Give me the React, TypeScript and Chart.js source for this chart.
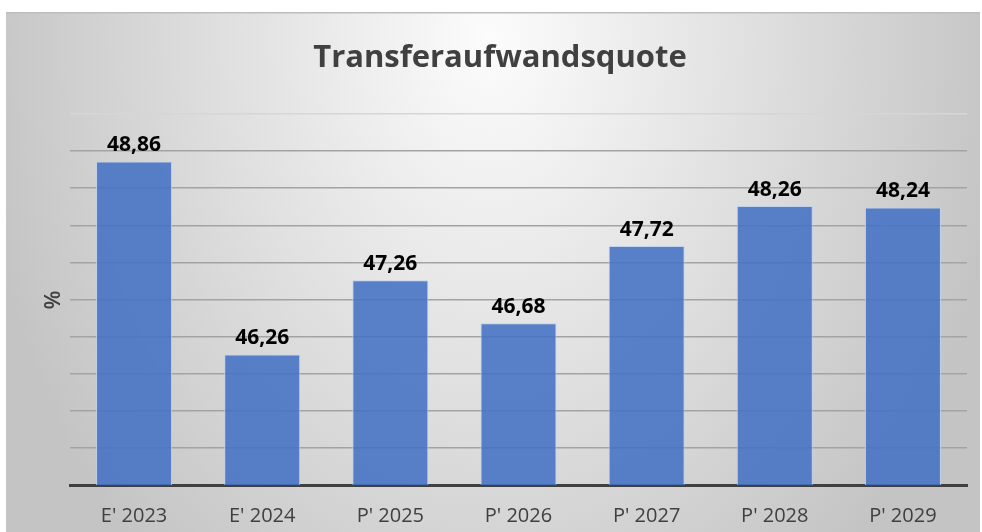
import React, { useEffect, useRef } from "react";
import { Chart, registerables } from "chart.js";
Chart.register(...registerables);

const categories = ["E' 2023", "E' 2024", "P' 2025", "P' 2026", "P' 2027", "P' 2028", "P' 2029"];
const values = [48.86, 46.26, 47.26, 46.68, 47.72, 48.26, 48.24];
const yMin = 44.5;
const yMax = 49.5;
const yStep = 0.5;
const chartTitle = "Transferaufwandsquote";
const yAxisLabel = "%";

const formatValue = (v: number) => v.toFixed(2).replace(".", ",");

const backgroundPlugin = {
  id: "bgPlugin",
  beforeDraw(chart: any) {
    const ctx = chart.ctx;
    const w = chart.width;
    const h = chart.height;
    ctx.save();
    ctx.fillStyle = "#ffffff";
    ctx.fillRect(0, 0, w, h);
    ctx.save();
    ctx.beginPath();
    ctx.rect(6, 13, w - 8, h - 13);
    ctx.clip();
    ctx.translate(490, 40);
    ctx.scale(520, 700);
    const g = ctx.createRadialGradient(0, 0, 0, 0, 0, 1);
    g.addColorStop(0, "#fcfcfc");
    g.addColorStop(1, "#c4c4c4");
    ctx.fillStyle = g;
    ctx.fillRect(-2, -2, 4, 4);
    ctx.restore();
    ctx.fillStyle = "#bdbdbd";
    ctx.fillRect(6, 12, w - 8, 1.5);
    // title
    ctx.fillStyle = "#404040";
    ctx.font = "bold 31px 'Open Sans'";
    ctx.textAlign = "center";
    ctx.textBaseline = "alphabetic";
    ctx.fillText(chartTitle, 500, 67);
    // y axis label
    ctx.save();
    ctx.translate(60, 300);
    ctx.rotate(-Math.PI / 2);
    ctx.font = "600 22px 'Open Sans'";
    ctx.textAlign = "center";
    ctx.textBaseline = "alphabetic";
    ctx.fillText(yAxisLabel, 0, 0);
    ctx.restore();
    ctx.restore();
  },
};

const dataLabelPlugin = {
  id: "dataLabels",
  afterDatasetsDraw(chart: any) {
    const ctx = chart.ctx;
    const meta = chart.getDatasetMeta(0);
    ctx.save();
    ctx.fillStyle = "#000000";
    ctx.font = "bold 21px 'Open Sans'";
    ctx.textAlign = "center";
    ctx.textBaseline = "alphabetic";
    meta.data.forEach((bar: any, i: number) => {
      ctx.fillText(formatValue(values[i]), bar.x, bar.y - 10);
    });
    ctx.restore();
  },
};

export default function App() {
  const ref = useRef<HTMLCanvasElement | null>(null);
  useEffect(() => {
    document.body.style.margin = "0";
    const canvas = ref.current;
    if (!canvas) return;
    const chart = new Chart(canvas, {
      type: "bar",
      data: {
        labels: categories,
        datasets: [
          {
            data: values,
            backgroundColor: "rgba(68,114,196,0.88)",
            borderColor: "rgba(190,208,238,0.9)",
            borderWidth: 1,
            categoryPercentage: 1,
            barPercentage: 0.593,
          },
        ],
      },
      options: {
        responsive: false,
        animation: false,
        devicePixelRatio: 1,
        layout: { padding: { left: 70, right: 15, top: 114, bottom: 0 } },
        plugins: {
          legend: { display: false },
          title: { display: false },
          tooltip: { enabled: false },
        },
        scales: {
          x: {
            grid: { display: false, drawTicks: false },
            border: { display: true, color: "#404040", width: 3 },
            ticks: {
              color: "#404040",
              font: { family: "'Open Sans'", size: 20 },
              padding: 19,
            },
            afterFit: (scale: any) => {
              scale.height = 47;
            },
          },
          y: {
            min: yMin,
            max: yMax,
            ticks: { display: false, stepSize: yStep },
            grid: {
              drawTicks: false,
              lineWidth: 1.5,
              color: (c: any) =>
                c.tick && Math.abs(c.tick.value - yMax) < 1e-6 ? "#d6d6d6" : "#a3a3a3",
            },
            border: { display: false },
            afterFit: (scale: any) => {
              scale.width = 0;
            },
          },
        },
      },
      plugins: [backgroundPlugin, dataLabelPlugin],
    });
    return () => chart.destroy();
  }, []);
  return <canvas ref={ref} width={982} height={532} style={{ display: "block" }} />;
}
